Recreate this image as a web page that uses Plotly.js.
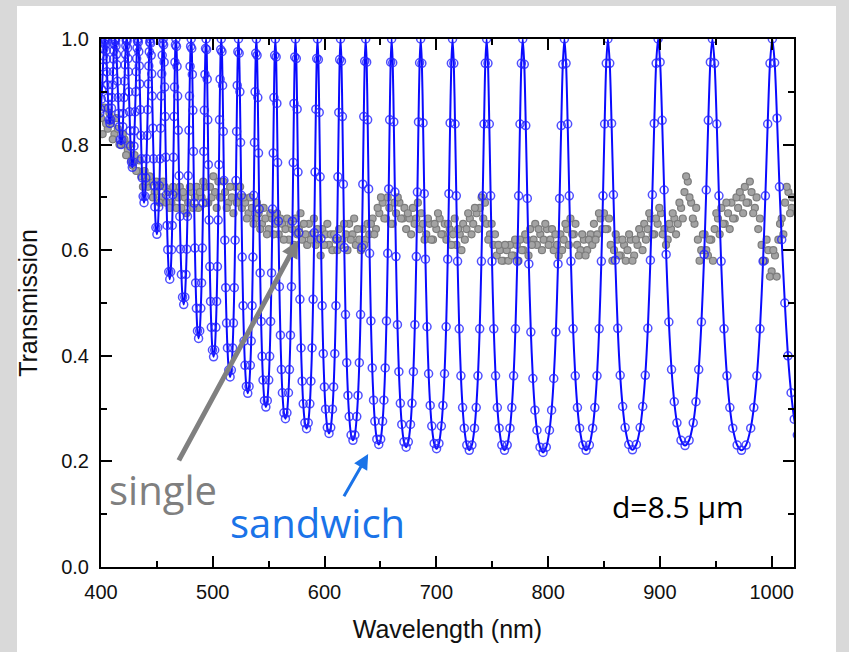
<!DOCTYPE html>
<html>
<head>
<meta charset="utf-8">
<script src="https://cdn.plot.ly/plotly-3.0.1.min.js"></script>
<style>
  html, body { margin: 0; padding: 0; background: #d9d9d9; }
  #wrap { position: relative; width: 849px; height: 652px; overflow: hidden; }
  #panel { position: absolute; left: 17px; top: 6px; width: 819px; height: 646px; background: #ffffff; }
  #chart { position: absolute; left: 0; top: 0; width: 849px; height: 652px; }
</style>
</head>
<body>
<div id="wrap"><div id="panel"></div><div id="chart"></div></div>
<script>
// "sandwich" transmission (blue): points read along each fringe (one row per fringe)
const sandwichNm = [
  399, 399.69, 400.38, 400.84, 401.3, 401.76, 402.22, 402.57, 402.91, 403.26, 403.6,
  403.93, 404.26, 404.59, 404.92, 405.36, 405.8, 406.24, 406.68, 407.34, 408,
  408.69, 409.38, 409.84, 410.3, 410.76, 411.22, 411.57, 411.91, 412.26, 412.6,
  413.01, 413.41, 413.82, 414.22, 414.76, 415.3, 415.84, 416.38, 417.19, 418,
  418.75, 419.5, 420, 420.5, 421, 421.5, 421.88, 422.25, 422.63, 423,
  423.38, 423.75, 424.13, 424.5, 425, 425.5, 426, 426.5, 427.25, 428,
  428.75, 429.5, 430, 430.5, 431, 431.5, 431.88, 432.25, 432.63, 433,
  433.41, 433.83, 434.24, 434.65, 435.2, 435.75, 436.3, 436.85, 437.68, 438.5,
  439.33, 440.15, 440.7, 441.25, 441.8, 442.35, 442.76, 443.18, 443.59, 444,
  444.45, 444.9, 445.35, 445.8, 446.4, 447, 447.6, 448.2, 449.1, 450,
  450.84, 451.68, 452.24, 452.8, 453.36, 453.92, 454.34, 454.76, 455.18, 455.6,
  456.04, 456.49, 456.93, 457.37, 457.96, 458.55, 459.14, 459.73, 460.62, 461.5,
  462.33, 463.15, 463.7, 464.25, 464.8, 465.35, 465.76, 466.18, 466.59, 467,
  467.53, 468.05, 468.58, 469.1, 469.8, 470.5, 471.2, 471.9, 472.95, 474,
  475.01, 476.01, 476.68, 477.35, 478.02, 478.69, 479.19, 479.7, 480.2, 480.7,
  481.2, 481.69, 482.19, 482.68, 483.34, 484, 484.66, 485.32, 486.31, 487.3,
  488.31, 489.31, 489.98, 490.65, 491.32, 491.99, 492.49, 493, 493.5, 494,
  494.5, 495.01, 495.51, 496.01, 496.68, 497.35, 498.02, 498.69, 499.7, 500.7,
  501.74, 502.77, 503.46, 504.15, 504.84, 505.53, 506.05, 506.57, 507.08, 507.6,
  508.19, 508.79, 509.38, 509.97, 510.76, 511.55, 512.34, 513.13, 514.32, 515.5,
  516.63, 517.75, 518.5, 519.25, 520, 520.75, 521.31, 521.88, 522.44, 523,
  523.62, 524.25, 524.87, 525.49, 526.32, 527.15, 527.98, 528.81, 530.06, 531.3,
  532.46, 533.61, 534.38, 535.15, 535.92, 536.69, 537.27, 537.85, 538.42, 539,
  539.64, 540.28, 540.91, 541.55, 542.4, 543.25, 544.1, 544.95, 546.23, 547.5,
  548.78, 550.05, 550.9, 551.75, 552.6, 553.45, 554.09, 554.73, 555.36, 556,
  556.68, 557.35, 558.03, 558.7, 559.6, 560.5, 561.4, 562.3, 563.65, 565,
  566.35, 567.7, 568.6, 569.5, 570.4, 571.3, 571.98, 572.65, 573.33, 574,
  574.74, 575.49, 576.23, 576.97, 577.96, 578.95, 579.94, 580.93, 582.42, 583.9,
  585.37, 586.84, 587.82, 588.8, 589.78, 590.76, 591.5, 592.23, 592.97, 593.7,
  594.47, 595.25, 596.02, 596.79, 597.82, 598.85, 599.88, 600.91, 602.46, 604,
  605.55, 607.09, 608.12, 609.15, 610.18, 611.21, 611.98, 612.76, 613.53, 614.3,
  615.13, 615.97, 616.8, 617.63, 618.74, 619.85, 620.96, 622.07, 623.74, 625.4,
  627.11, 628.82, 629.96, 631.1, 632.24, 633.38, 634.24, 635.09, 635.95, 636.8,
  637.68, 638.56, 639.43, 640.31, 641.48, 642.65, 643.82, 644.99, 646.75, 648.5,
  650.23, 651.95, 653.1, 654.25, 655.4, 656.55, 657.41, 658.28, 659.14, 660,
  660.98, 661.95, 662.93, 663.9, 665.2, 666.5, 667.8, 669.1, 671.05, 673,
  674.95, 676.9, 678.2, 679.5, 680.8, 682.1, 683.08, 684.05, 685.03, 686,
  687.07, 688.13, 689.2, 690.26, 691.68, 693.1, 694.52, 695.94, 698.07, 700.2,
  702.35, 704.49, 705.92, 707.35, 708.78, 710.21, 711.28, 712.36, 713.43, 714.5,
  715.63, 716.75, 717.88, 719, 720.5, 722, 723.5, 725, 727.25, 729.5,
  731.83, 734.15, 735.7, 737.25, 738.8, 740.35, 741.51, 742.68, 743.84, 745,
  746.2, 747.4, 748.6, 749.8, 751.4, 753, 754.6, 756.2, 758.6, 761,
  763.45, 765.89, 767.52, 769.15, 770.78, 772.41, 773.63, 774.86, 776.08, 777.3,
  778.67, 780.03, 781.4, 782.76, 784.58, 786.4, 788.22, 790.04, 792.77, 795.5,
  798.37, 801.23, 803.14, 805.05, 806.96, 808.87, 810.3, 811.74, 813.17, 814.6,
  816.06, 817.51, 818.97, 820.42, 822.36, 824.3, 826.24, 828.18, 831.09, 834,
  836.93, 839.85, 841.8, 843.75, 845.7, 847.65, 849.11, 850.58, 852.04, 853.5,
  855.15, 856.8, 858.45, 860.1, 862.3, 864.5, 866.7, 868.9, 872.2, 875.5,
  878.94, 882.37, 884.66, 886.95, 889.24, 891.53, 893.25, 894.97, 896.68, 898.4,
  900.21, 902.02, 903.82, 905.63, 908.04, 910.45, 912.86, 915.27, 918.89, 922.5,
  926.18, 929.85, 932.3, 934.75, 937.2, 939.65, 941.49, 943.33, 945.16, 947,
  948.95, 950.9, 952.85, 954.8, 957.4, 960, 962.6, 965.2, 969.1, 973,
  977.14, 981.28, 984.04, 986.8, 989.56, 992.32, 994.39, 996.46, 998.53, 1000.6,
  1002.7, 1004.8, 1007, 1009, 1011.8, 1014.6, 1017.4, 1020.2, 1023
];
const sandwichT = [
  0.86, 0.867, 0.886, 0.904, 0.925, 0.947, 0.968, 0.981, 0.991, 0.998, 1.0,
  0.997, 0.990, 0.978, 0.962, 0.938, 0.913, 0.889, 0.869, 0.847, 0.84,
  0.847, 0.869, 0.889, 0.913, 0.938, 0.962, 0.978, 0.990, 0.997, 1.0,
  0.997, 0.987, 0.971, 0.951, 0.920, 0.889, 0.859, 0.834, 0.809, 0.80,
  0.809, 0.834, 0.859, 0.889, 0.920, 0.951, 0.971, 0.987, 0.997, 1.0,
  0.996, 0.983, 0.963, 0.938, 0.900, 0.862, 0.826, 0.797, 0.767, 0.757,
  0.767, 0.797, 0.826, 0.862, 0.900, 0.938, 0.963, 0.983, 0.996, 1.0,
  0.994, 0.976, 0.949, 0.915, 0.866, 0.817, 0.773, 0.737, 0.702, 0.69,
  0.702, 0.737, 0.773, 0.817, 0.866, 0.915, 0.949, 0.976, 0.994, 1.0,
  0.992, 0.969, 0.934, 0.892, 0.831, 0.773, 0.722, 0.682, 0.643, 0.63,
  0.643, 0.682, 0.722, 0.773, 0.831, 0.892, 0.934, 0.969, 0.992, 1.0,
  0.989, 0.956, 0.909, 0.853, 0.776, 0.705, 0.647, 0.601, 0.559, 0.545,
  0.559, 0.601, 0.647, 0.705, 0.776, 0.853, 0.909, 0.956, 0.989, 1.0,
  0.986, 0.948, 0.892, 0.827, 0.741, 0.664, 0.602, 0.554, 0.511, 0.497,
  0.511, 0.554, 0.602, 0.664, 0.741, 0.827, 0.892, 0.948, 0.986, 1.0,
  0.982, 0.933, 0.865, 0.787, 0.689, 0.604, 0.538, 0.490, 0.447, 0.433,
  0.447, 0.490, 0.538, 0.604, 0.689, 0.787, 0.865, 0.933, 0.982, 1.0,
  0.980, 0.924, 0.847, 0.762, 0.657, 0.569, 0.503, 0.454, 0.411, 0.398,
  0.411, 0.454, 0.503, 0.569, 0.657, 0.762, 0.847, 0.924, 0.980, 1.0,
  0.976, 0.912, 0.825, 0.732, 0.619, 0.529, 0.462, 0.415, 0.373, 0.36,
  0.373, 0.415, 0.462, 0.529, 0.619, 0.732, 0.825, 0.912, 0.976, 1.0,
  0.973, 0.900, 0.804, 0.704, 0.587, 0.495, 0.428, 0.382, 0.342, 0.329,
  0.342, 0.382, 0.428, 0.495, 0.587, 0.704, 0.804, 0.900, 0.973, 1.0,
  0.969, 0.889, 0.784, 0.678, 0.557, 0.465, 0.399, 0.354, 0.315, 0.303,
  0.315, 0.354, 0.399, 0.465, 0.557, 0.678, 0.784, 0.889, 0.969, 1.0,
  0.966, 0.878, 0.766, 0.655, 0.531, 0.439, 0.374, 0.330, 0.292, 0.281,
  0.292, 0.330, 0.374, 0.439, 0.531, 0.655, 0.766, 0.878, 0.966, 1.0,
  0.963, 0.867, 0.748, 0.633, 0.507, 0.415, 0.352, 0.309, 0.273, 0.262,
  0.273, 0.309, 0.352, 0.415, 0.507, 0.633, 0.748, 0.867, 0.963, 1.0,
  0.961, 0.861, 0.739, 0.622, 0.495, 0.404, 0.341, 0.299, 0.264, 0.253,
  0.264, 0.299, 0.341, 0.404, 0.495, 0.622, 0.739, 0.861, 0.961, 1.0,
  0.958, 0.853, 0.725, 0.605, 0.478, 0.387, 0.325, 0.285, 0.250, 0.240,
  0.250, 0.285, 0.325, 0.387, 0.478, 0.605, 0.725, 0.853, 0.958, 1.0,
  0.956, 0.847, 0.716, 0.594, 0.466, 0.377, 0.316, 0.276, 0.242, 0.232,
  0.242, 0.276, 0.316, 0.377, 0.466, 0.594, 0.716, 0.847, 0.956, 1.0,
  0.955, 0.843, 0.710, 0.588, 0.459, 0.370, 0.310, 0.270, 0.237, 0.227,
  0.237, 0.270, 0.310, 0.370, 0.459, 0.588, 0.710, 0.843, 0.955, 1.0,
  0.954, 0.841, 0.707, 0.583, 0.455, 0.366, 0.306, 0.267, 0.234, 0.224,
  0.234, 0.267, 0.306, 0.366, 0.455, 0.583, 0.707, 0.841, 0.954, 1.0,
  0.954, 0.839, 0.703, 0.579, 0.451, 0.362, 0.302, 0.263, 0.231, 0.221,
  0.231, 0.263, 0.302, 0.362, 0.451, 0.579, 0.703, 0.839, 0.954, 1.0,
  0.954, 0.839, 0.703, 0.579, 0.451, 0.362, 0.302, 0.263, 0.231, 0.221,
  0.231, 0.263, 0.302, 0.362, 0.451, 0.579, 0.703, 0.839, 0.954, 1.0,
  0.952, 0.836, 0.698, 0.574, 0.445, 0.357, 0.297, 0.259, 0.227, 0.217,
  0.227, 0.259, 0.297, 0.357, 0.445, 0.574, 0.698, 0.836, 0.952, 1.0,
  0.954, 0.839, 0.703, 0.579, 0.451, 0.362, 0.302, 0.263, 0.231, 0.221,
  0.231, 0.263, 0.302, 0.362, 0.451, 0.579, 0.703, 0.839, 0.954, 1.0,
  0.954, 0.840, 0.705, 0.581, 0.452, 0.363, 0.304, 0.264, 0.232, 0.222,
  0.232, 0.264, 0.304, 0.363, 0.452, 0.581, 0.705, 0.840, 0.954, 1.0,
  0.956, 0.846, 0.714, 0.592, 0.464, 0.374, 0.313, 0.273, 0.240, 0.230,
  0.240, 0.273, 0.313, 0.374, 0.464, 0.592, 0.714, 0.846, 0.956, 1.0,
  0.954, 0.839, 0.703, 0.579, 0.451, 0.362, 0.302, 0.263, 0.231, 0.221,
  0.231, 0.263, 0.302, 0.362, 0.451, 0.579, 0.703, 0.839, 0.954, 1.0,
  0.955, 0.85, 0.72, 0.62, 0.50, 0.40, 0.33, 0.28, 0.25
];

// "single" transmission (grey), two interleaved sample sets
const singleNm = [
  400, 403, 406, 409, 412, 415, 418, 421, 424, 427,
  430, 433, 436, 439, 442, 445, 448, 451, 454, 457,
  460, 463, 466, 469, 472, 475, 478, 481, 484, 487,
  490, 493, 496, 499, 502, 505, 508, 511, 514, 517,
  520, 523, 526, 529, 532, 535, 538, 541, 544, 547,
  550, 553, 556, 559, 562, 565, 568, 571, 574, 577,
  580, 583, 586, 589, 592, 595, 598, 601, 604, 607,
  610, 613, 616, 619, 622, 625, 628, 631, 634, 637,
  640, 643, 646, 649, 652, 655, 658, 661, 664, 667,
  670, 673, 676, 679, 682, 685, 688, 691, 694, 697,
  700, 703, 706, 709, 712, 715, 718, 721, 724, 727,
  730, 733, 736, 739, 742, 745, 748, 751, 754, 757,
  760, 763, 766, 769, 772, 775, 778, 781, 784, 787,
  790, 793, 796, 799, 802, 805, 808, 811, 814, 817,
  820, 823, 826, 829, 832, 835, 838, 841, 844, 847,
  850, 853, 856, 859, 862, 865, 868, 871, 874, 877,
  880, 883, 886, 889, 892, 895, 898, 901, 904, 907,
  910, 913, 916, 919, 922, 925, 928, 931, 934, 937,
  940, 943, 946, 949, 952, 955, 958, 961, 964, 967,
  970, 973, 976, 979, 982, 985, 988, 991, 994, 997,
  1000, 1003, 1006, 1009, 1012, 1015, 1018
];
const singleT = [
  0.85, 0.87, 0.83, 0.84, 0.82, 0.83, 0.80, 0.81, 0.79, 0.77,
  0.78, 0.75, 0.74, 0.75, 0.72, 0.73, 0.71, 0.72, 0.70, 0.72,
  0.71, 0.69, 0.71, 0.70, 0.68, 0.70, 0.69, 0.71, 0.70, 0.68,
  0.70, 0.72, 0.69, 0.70, 0.71, 0.73, 0.70, 0.71, 0.69, 0.70,
  0.72, 0.70, 0.68, 0.69, 0.67, 0.68, 0.66, 0.67, 0.65, 0.66,
  0.64, 0.66, 0.65, 0.63, 0.65, 0.64, 0.62, 0.64, 0.66, 0.64,
  0.62, 0.63, 0.65, 0.63, 0.61, 0.62, 0.64, 0.63, 0.61, 0.60,
  0.62, 0.64, 0.62, 0.63, 0.65, 0.63, 0.61, 0.62, 0.64, 0.62,
  0.63, 0.66, 0.64, 0.67, 0.69, 0.66, 0.68, 0.65, 0.67, 0.69,
  0.66, 0.64, 0.66, 0.68, 0.66, 0.64, 0.65, 0.63, 0.65, 0.62,
  0.64, 0.66, 0.63, 0.62, 0.64, 0.63, 0.61, 0.63, 0.65, 0.64,
  0.66, 0.65, 0.67, 0.68, 0.66, 0.65, 0.63, 0.61, 0.59, 0.60,
  0.58, 0.60, 0.61, 0.59, 0.61, 0.62, 0.60, 0.62, 0.64, 0.62,
  0.61, 0.63, 0.62, 0.64, 0.62, 0.60, 0.61, 0.63, 0.62, 0.64,
  0.66, 0.63, 0.61, 0.60, 0.62, 0.60, 0.63, 0.65, 0.63, 0.66,
  0.67, 0.64, 0.61, 0.60, 0.62, 0.59, 0.61, 0.60, 0.62, 0.59,
  0.61, 0.63, 0.65, 0.64, 0.66, 0.63, 0.65, 0.67, 0.64, 0.62,
  0.64, 0.66, 0.65, 0.68, 0.71, 0.73, 0.69, 0.65, 0.62, 0.60,
  0.63, 0.59, 0.62, 0.64, 0.66, 0.68, 0.65, 0.67, 0.69, 0.66,
  0.68, 0.70, 0.72, 0.69, 0.71, 0.68, 0.64, 0.61, 0.58, 0.60,
  0.56, 0.59, 0.62, 0.66, 0.69, 0.71, 0.68
];
const singleNmB = [
  401.5, 404.5, 407.5, 410.5, 413.5, 416.5, 419.5, 422.5, 425.5, 428.5,
  431.5, 434.5, 437.5, 440.5, 443.5, 446.5, 449.5, 452.5, 455.5, 458.5,
  461.5, 464.5, 467.5, 470.5, 473.5, 476.5, 479.5, 482.5, 485.5, 488.5,
  491.5, 494.5, 497.5, 500.5, 503.5, 506.5, 509.5, 512.5, 515.5, 518.5,
  521.5, 524.5, 527.5, 530.5, 533.5, 536.5, 539.5, 542.5, 545.5, 548.5,
  551.5, 554.5, 557.5, 560.5, 563.5, 566.5, 569.5, 572.5, 575.5, 578.5,
  581.5, 584.5, 587.5, 590.5, 593.5, 596.5, 599.5, 602.5, 605.5, 608.5,
  611.5, 614.5, 617.5, 620.5, 623.5, 626.5, 629.5, 632.5, 635.5, 638.5,
  641.5, 644.5, 647.5, 650.5, 653.5, 656.5, 659.5, 662.5, 665.5, 668.5,
  671.5, 674.5, 677.5, 680.5, 683.5, 686.5, 689.5, 692.5, 695.5, 698.5,
  701.5, 704.5, 707.5, 710.5, 713.5, 716.5, 719.5, 722.5, 725.5, 728.5,
  731.5, 734.5, 737.5, 740.5, 743.5, 746.5, 749.5, 752.5, 755.5, 758.5,
  761.5, 764.5, 767.5, 770.5, 773.5, 776.5, 779.5, 782.5, 785.5, 788.5,
  791.5, 794.5, 797.5, 800.5, 803.5, 806.5, 809.5, 812.5, 815.5, 818.5,
  821.5, 824.5, 827.5, 830.5, 833.5, 836.5, 839.5, 842.5, 845.5, 848.5,
  851.5, 854.5, 857.5, 860.5, 863.5, 866.5, 869.5, 872.5, 875.5, 878.5,
  881.5, 884.5, 887.5, 890.5, 893.5, 896.5, 899.5, 902.5, 905.5, 908.5,
  911.5, 914.5, 917.5, 920.5, 923.5, 926.5, 929.5, 932.5, 935.5, 938.5,
  941.5, 944.5, 947.5, 950.5, 953.5, 956.5, 959.5, 962.5, 965.5, 968.5,
  971.5, 974.5, 977.5, 980.5, 983.5, 986.5, 989.5, 992.5, 995.5, 998.5,
  1001.5, 1004.5, 1007.5, 1010.5, 1013.5, 1016.5, 1018.5
];
const singleTB = [
  0.82, 0.84, 0.86, 0.81, 0.85, 0.80, 0.82, 0.78, 0.80, 0.76,
  0.75, 0.77, 0.72, 0.73, 0.74, 0.70, 0.73, 0.69, 0.73, 0.69,
  0.68, 0.72, 0.68, 0.72, 0.71, 0.67, 0.72, 0.68, 0.72, 0.71,
  0.73, 0.69, 0.72, 0.74, 0.68, 0.70, 0.73, 0.68, 0.72, 0.67,
  0.69, 0.72, 0.70, 0.66, 0.70, 0.65, 0.69, 0.64, 0.68, 0.63,
  0.67, 0.63, 0.67, 0.66, 0.62, 0.66, 0.65, 0.61, 0.63, 0.67,
  0.65, 0.61, 0.62, 0.66, 0.64, 0.59, 0.61, 0.65, 0.63, 0.63,
  0.60, 0.61, 0.65, 0.60, 0.62, 0.66, 0.64, 0.60, 0.61, 0.65,
  0.65, 0.63, 0.68, 0.70, 0.66, 0.70, 0.65, 0.69, 0.70, 0.66,
  0.68, 0.67, 0.63, 0.65, 0.69, 0.67, 0.62, 0.66, 0.62, 0.65,
  0.67, 0.63, 0.65, 0.65, 0.61, 0.66, 0.64, 0.60, 0.62, 0.67,
  0.63, 0.68, 0.64, 0.70, 0.69, 0.62, 0.65, 0.63, 0.61, 0.58,
  0.61, 0.58, 0.59, 0.62, 0.58, 0.60, 0.63, 0.59, 0.61, 0.65,
  0.64, 0.60, 0.65, 0.61, 0.64, 0.63, 0.59, 0.60, 0.65, 0.61,
  0.63, 0.65, 0.59, 0.63, 0.59, 0.62, 0.61, 0.62, 0.67, 0.64,
  0.64, 0.66, 0.58, 0.63, 0.59, 0.62, 0.58, 0.63, 0.58, 0.62,
  0.64, 0.60, 0.62, 0.67, 0.63, 0.66, 0.68, 0.63, 0.61, 0.65,
  0.67, 0.63, 0.69, 0.66, 0.74, 0.70, 0.66, 0.68, 0.58, 0.63,
  0.60, 0.62, 0.58, 0.67, 0.63, 0.65, 0.69, 0.64, 0.66, 0.70,
  0.71, 0.67, 0.69, 0.73, 0.67, 0.70, 0.66, 0.58, 0.62, 0.55,
  0.60, 0.55, 0.65, 0.63, 0.72, 0.67, 0.70
];

const xTickVals = [400, 500, 600, 700, 800, 900, 1000];
const yTickVals = [0.0, 0.2, 0.4, 0.6, 0.8, 1.0];

const traces = [
  {
    x: singleNm.concat(singleNmB), y: singleT.concat(singleTB),
    type: 'scatter', mode: 'markers', name: 'single',
    marker: { symbol: 'circle', size: 7, color: '#a3a3a3', line: { color: '#7c7c7c', width: 1.2 } },
    showlegend: false, cliponaxis: true
  },
  {
    x: sandwichNm, y: sandwichT, type: 'scatter', mode: 'lines+markers', name: 'sandwich',
    line: { color: '#0a0aff', width: 2, shape: 'spline', smoothing: 0.8 },
    marker: { symbol: 'circle-open', size: 8, color: 'rgba(35,35,255,0.8)', line: { width: 1.5 } },
    showlegend: false, cliponaxis: true
  }
];

const axisFont = { family: 'Liberation Sans, Arial, sans-serif', size: 20, color: '#111111' };

const layout = {
  width: 849, height: 652,
  margin: { l: 101, r: 55, t: 39, b: 85 },
  paper_bgcolor: 'rgba(0,0,0,0)',
  plot_bgcolor: '#ffffff',
  showlegend: false,
  xaxis: {
    range: [400, 1020], tickvals: xTickVals, ticktext: xTickVals.map(String),
    ticks: 'inside', ticklen: 11, tickwidth: 2, tickcolor: '#000',
    minor: { ticks: 'inside', dtick: 50, tick0: 400, ticklen: 6, tickwidth: 2, tickcolor: '#000' },
    showline: true, linewidth: 2, linecolor: '#000', mirror: 'allticks',
    showgrid: false, zeroline: false,
    tickfont: axisFont, ticklabelstandoff: 6,
    title: { text: 'Wavelength (nm)', font: { family: 'Liberation Sans, Arial, sans-serif', size: 25, color: '#111' }, standoff: 18 }
  },
  yaxis: {
    range: [0, 1.0], tickvals: yTickVals, ticktext: yTickVals.map(v => v.toFixed(1)),
    ticks: 'inside', ticklen: 11, tickwidth: 2, tickcolor: '#000',
    minor: { ticks: 'inside', dtick: 0.1, tick0: 0, ticklen: 6, tickwidth: 2, tickcolor: '#000' },
    showline: true, linewidth: 2, linecolor: '#000', mirror: 'allticks',
    showgrid: false, zeroline: false,
    tickfont: axisFont, ticklabelstandoff: 6,
    title: { text: 'Transmission', font: { family: 'Liberation Sans, Arial, sans-serif', size: 25, color: '#111' }, standoff: 16 }
  },
  annotations: [
    { x: 576.4, y: 0.619, ax: 468.9, ay: 0.199, xref: 'x', yref: 'y', axref: 'x', ayref: 'y',
      showarrow: true, arrowhead: 2, arrowsize: 0.7, arrowwidth: 5, arrowcolor: '#808080', text: '' },
    { x: 639.0, y: 0.214, ax: 616.6, ay: 0.131, xref: 'x', yref: 'y', axref: 'x', ayref: 'y',
      showarrow: true, arrowhead: 2, arrowsize: 1, arrowwidth: 3, arrowcolor: '#1a73e8', text: '' },
    { x: 455.5, y: 0.146, xref: 'x', yref: 'y', showarrow: false, text: 'single',
      font: { family: 'Open Sans, sans-serif', size: 40, color: '#7f7f7f' } },
    { x: 593.4, y: 0.085, xref: 'x', yref: 'y', showarrow: false, text: 'sandwich',
      font: { family: 'Open Sans, sans-serif', size: 40, color: '#1a73e8' } },
    { x: 916.6, y: 0.114, xref: 'x', yref: 'y', showarrow: false, text: 'd=8.5 μm',
      font: { family: 'Open Sans, sans-serif', size: 30, color: '#000000' } }
  ]
};

Plotly.newPlot('chart', traces, layout, { staticPlot: true, displayModeBar: false });
</script>
</body>
</html>
